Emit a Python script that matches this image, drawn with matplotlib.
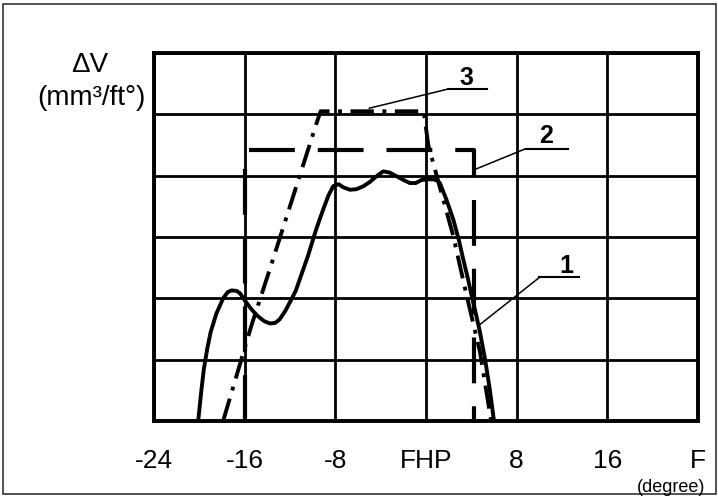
import matplotlib
matplotlib.use("Agg")
import matplotlib.pyplot as plt
from matplotlib.patches import Rectangle

plt.rcParams['font.family'] = ['Liberation Sans', 'DejaVu Sans']

# x tick positions / labels (degree)
x_ticks = [-24, -16, -8, 0, 8, 16, 24]
x_labels = ['-24', '-16', '-8', 'FHP', '8', '16', 'F']

# curve 1 (solid, measured)
x1 = [-20.1, -19.85, -19.6, -19.3, -19.0, -18.5, -17.9, -17.5, -17.15, -16.7, -16.4,
      -16.0, -15.4, -14.9, -14.3, -13.77, -13.3, -12.9, -12.4, -12.0, -11.5,
      -11.12, -10.4, -9.7, -9.07, -8.6, -8.18, -7.7, -7.3, -6.7, -6.12, -5.5,
      -4.94, -4.3, -3.77, -3.2, -2.59, -2.0, -1.42, -0.9, -0.39, 0.2, 0.63,
      1.0, 1.22, 1.52, 1.8, 2.4, 2.9, 3.28, 3.7, 4.02, 4.4, 4.76, 5.2, 5.6, 6.0]
y1 = [0.0, 0.45, 0.85, 1.18, 1.45, 1.75, 2.0, 2.1, 2.13, 2.12, 2.08,
      1.97, 1.82, 1.72, 1.63, 1.59, 1.6, 1.66, 1.8, 1.94, 2.12,
      2.32, 2.7, 3.12, 3.45, 3.68, 3.83, 3.86, 3.81, 3.77, 3.78, 3.83,
      3.9, 4.0, 4.07, 4.05, 3.99, 3.93, 3.88, 3.88, 3.93, 3.94, 3.94,
      3.92, 3.88, 3.74, 3.61, 3.29, 2.95, 2.64, 2.32, 2.05, 1.75, 1.45, 1.02, 0.55, 0.0]

# curve 2 (dashed)
x2 = [-16.0, -16.0, 4.2, 4.2]
y2 = [0.0, 4.42, 4.42, 0.0]

# curve 3 (dash-dot)
x3 = [-17.9, -15.4, -13.77, -9.65, -9.3, -0.2, 0.2, 2.4, 3.58, 4.76, 5.75]
y3 = [0.0, 1.56, 2.48, 4.86, 5.05, 5.05, 4.5, 3.02, 2.05, 1.13, 0.0]

# leader labels: text pos, underline, pointed spot
labels = ['3', '2', '1']
label_xy = [(3.6, 5.6), (10.6, 4.65), (12.4, 2.53)]
underline_x = [(1.9, 5.4), (8.8, 12.5), (10.0, 13.5)]
underline_y = [5.41, 4.44, 2.34]
pointer_xy = [(-5.0, 5.1), (4.3, 4.1), (4.6, 1.55)]

fig = plt.figure(figsize=(7.18, 4.99), dpi=100)
ax = fig.add_axes([154 / 718, 1 - 421 / 499, 544 / 718, 368 / 499])

ax.set_xlim(-24, 24)
ax.set_ylim(0, 6)
ax.set_xticks(x_ticks)
ax.set_xticklabels(x_labels, fontsize=19)
ax.set_yticks(range(0, 7))
ax.set_yticklabels([])
ax.tick_params(length=0, pad=20)
ax.grid(True, color='black', linewidth=2.0)
ax.set_axisbelow(True)
for s in ax.spines.values():
    s.set_linewidth(2.8)

ax.plot(x1, y1, color='black', linewidth=2.8, solid_capstyle='round',
        solid_joinstyle='round')
ax.plot(x2, y2, color='black', linewidth=3.0, dashes=(11, 5.5))
ax.plot(x3, y3, color='black', linewidth=2.8, dashes=(6, 2.2, 1, 2.2))

for lab, (tx, ty), (ux0, ux1), uy, (px, py) in zip(labels, label_xy, underline_x,
                                                    underline_y, pointer_xy):
    ax.plot([ux0, ux1], [uy, uy], color='black', linewidth=1.5, clip_on=False)
    ax.plot([ux0, px], [uy, py], color='black', linewidth=1.1, clip_on=False)
    ax.text(tx, ty, lab, fontsize=18, fontweight='bold', ha='center', va='center')

fig.text(90 / 718, 1 - 65 / 499, 'ΔV', fontsize=20, ha='center', va='center')
fig.text(91 / 718, 1 - 98 / 499, '(mm³/ft°)', fontsize=20, ha='center', va='center')
fig.text(671 / 718, 1 - 487 / 499, '(degree)', fontsize=13, ha='center', va='center')

fig.add_artist(Rectangle((3 / 718, 1 - 494 / 499), 713 / 718, 490 / 499,
                         transform=fig.transFigure, fill=False,
                         edgecolor='#333333', linewidth=1.2))

fig.savefig('out.png', dpi=100)
